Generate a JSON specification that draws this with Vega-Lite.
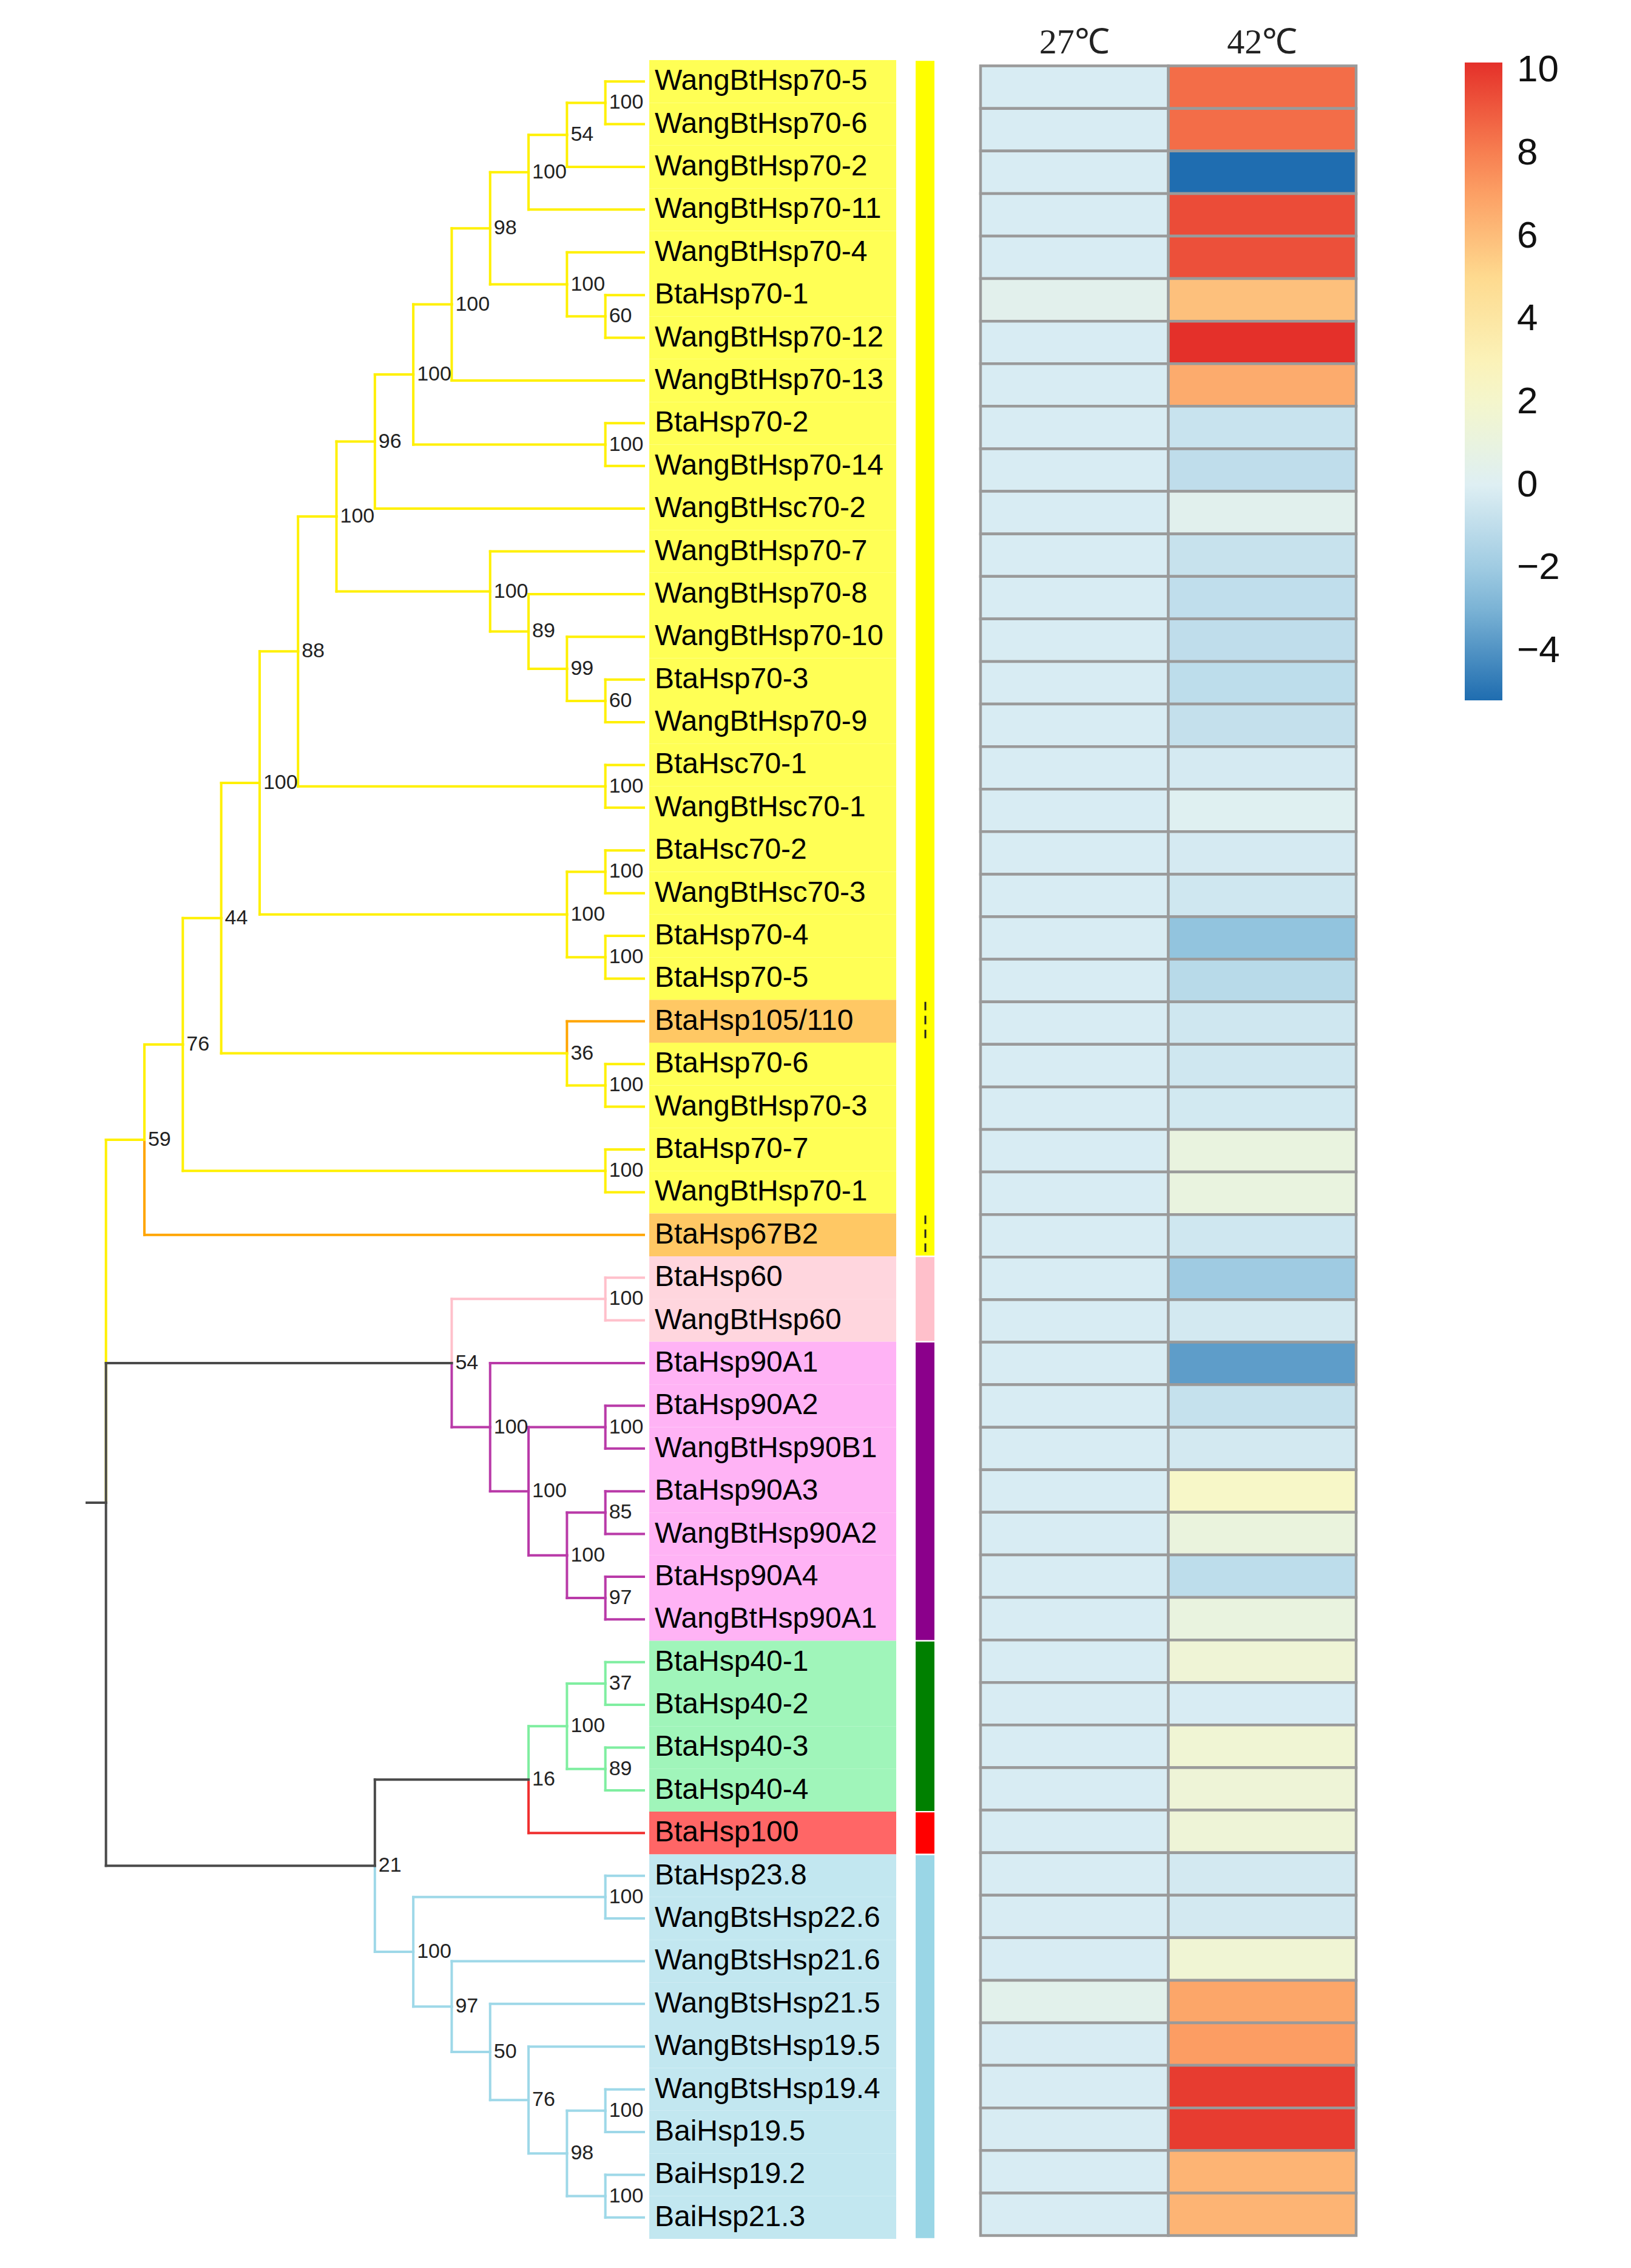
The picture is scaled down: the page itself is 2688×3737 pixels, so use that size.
{
"$schema": "https://vega.github.io/schema/vega-lite/v6.json",
"width": 2688, "height": 3737, "autosize": {"type": "none"}, "padding": 0,
"background": "white",
"config": {"view": {"stroke": null}},
"datasets": {"tree": [
{"name":"WangBtHsp70-5","h":0,"ph":1,"r":1,"pr":1.5,"cl":"Hsp70","fam":"Hsp70","27℃":-0.2,"42℃":8.5},
{"name":"WangBtHsp70-6","h":0,"ph":1,"r":2,"pr":1.5,"cl":"Hsp70","fam":"Hsp70","27℃":-0.2,"42℃":8.5},
{"name":"WangBtHsp70-2","h":0,"ph":2,"r":3,"pr":2.25,"cl":"Hsp70","fam":"Hsp70","27℃":-0.2,"42℃":-5.2},
{"name":"WangBtHsp70-11","h":0,"ph":3,"r":4,"pr":3.125,"cl":"Hsp70","fam":"Hsp70","27℃":-0.2,"42℃":9.4},
{"name":"WangBtHsp70-4","h":0,"ph":2,"r":5,"pr":5.75,"cl":"Hsp70","fam":"Hsp70","27℃":-0.2,"42℃":9.3},
{"name":"BtaHsp70-1","h":0,"ph":1,"r":6,"pr":6.5,"cl":"Hsp70","fam":"Hsp70","27℃":0.35,"42℃":5.9},
{"name":"WangBtHsp70-12","h":0,"ph":1,"r":7,"pr":6.5,"cl":"Hsp70","fam":"Hsp70","27℃":-0.2,"42℃":10.18},
{"name":"WangBtHsp70-13","h":0,"ph":5,"r":8,"pr":6.21875,"cl":"Hsp70","fam":"Hsp70","27℃":-0.2,"42℃":6.6},
{"name":"BtaHsp70-2","h":0,"ph":1,"r":9,"pr":9.5,"cl":"Hsp70","fam":"Hsp70","27℃":-0.2,"42℃":-0.7},
{"name":"WangBtHsp70-14","h":0,"ph":1,"r":10,"pr":9.5,"cl":"Hsp70","fam":"Hsp70","27℃":-0.2,"42℃":-1.0},
{"name":"WangBtHsc70-2","h":0,"ph":7,"r":11,"pr":9.4296875,"cl":"Hsp70","fam":"Hsp70","27℃":-0.2,"42℃":0.3},
{"name":"WangBtHsp70-7","h":0,"ph":4,"r":12,"pr":12.9375,"cl":"Hsp70","fam":"Hsp70","27℃":-0.2,"42℃":-0.75},
{"name":"WangBtHsp70-8","h":0,"ph":3,"r":13,"pr":13.875,"cl":"Hsp70","fam":"Hsp70","27℃":-0.2,"42℃":-0.95},
{"name":"WangBtHsp70-10","h":0,"ph":2,"r":14,"pr":14.75,"cl":"Hsp70","fam":"Hsp70","27℃":-0.2,"42℃":-1.0},
{"name":"BtaHsp70-3","h":0,"ph":1,"r":15,"pr":15.5,"cl":"Hsp70","fam":"Hsp70","27℃":-0.2,"42℃":-1.05},
{"name":"WangBtHsp70-9","h":0,"ph":1,"r":16,"pr":15.5,"cl":"Hsp70","fam":"Hsp70","27℃":-0.2,"42℃":-0.85},
{"name":"BtaHsc70-1","h":0,"ph":1,"r":17,"pr":17.5,"cl":"Hsp70","fam":"Hsp70","27℃":-0.2,"42℃":-0.3},
{"name":"WangBtHsc70-1","h":0,"ph":1,"r":18,"pr":17.5,"cl":"Hsp70","fam":"Hsp70","27℃":-0.2,"42℃":0.1},
{"name":"BtaHsc70-2","h":0,"ph":1,"r":19,"pr":19.5,"cl":"Hsp70","fam":"Hsp70","27℃":-0.2,"42℃":-0.3},
{"name":"WangBtHsc70-3","h":0,"ph":1,"r":20,"pr":19.5,"cl":"Hsp70","fam":"Hsp70","27℃":-0.2,"42℃":-0.5},
{"name":"BtaHsp70-4","h":0,"ph":1,"r":21,"pr":21.5,"cl":"Hsp70","fam":"Hsp70","27℃":-0.2,"42℃":-2.4},
{"name":"BtaHsp70-5","h":0,"ph":1,"r":22,"pr":21.5,"cl":"Hsp70","fam":"Hsp70","27℃":-0.2,"42℃":-1.2},
{"name":"BtaHsp105/110","h":0,"ph":2,"r":23,"pr":23.75,"cl":"Hsp110","fam":"Hsp70","27℃":-0.2,"42℃":-0.5},
{"name":"BtaHsp70-6","h":0,"ph":1,"r":24,"pr":24.5,"cl":"Hsp70","fam":"Hsp70","27℃":-0.2,"42℃":-0.5},
{"name":"WangBtHsp70-3","h":0,"ph":1,"r":25,"pr":24.5,"cl":"Hsp70","fam":"Hsp70","27℃":-0.2,"42℃":-0.4},
{"name":"BtaHsp70-7","h":0,"ph":1,"r":26,"pr":26.5,"cl":"Hsp70","fam":"Hsp70","27℃":-0.2,"42℃":1.0},
{"name":"WangBtHsp70-1","h":0,"ph":1,"r":27,"pr":26.5,"cl":"Hsp70","fam":"Hsp70","27℃":-0.2,"42℃":1.0},
{"name":"BtaHsp67B2","h":0,"ph":13,"r":28,"pr":25.77135,"cl":"Hsp110","fam":"Hsp70","27℃":-0.2,"42℃":-0.5},
{"name":"BtaHsp60","h":0,"ph":1,"r":29,"pr":29.5,"cl":"Hsp60","fam":"Hsp60","27℃":-0.2,"42℃":-2.0},
{"name":"WangBtHsp60","h":0,"ph":1,"r":30,"pr":29.5,"cl":"Hsp60","fam":"Hsp60","27℃":-0.2,"42℃":-0.35},
{"name":"BtaHsp90A1","h":0,"ph":4,"r":31,"pr":32.5,"cl":"Hsp90","fam":"Hsp90","27℃":-0.2,"42℃":-3.7},
{"name":"BtaHsp90A2","h":0,"ph":1,"r":32,"pr":32.5,"cl":"Hsp90","fam":"Hsp90","27℃":-0.2,"42℃":-0.8},
{"name":"WangBtHsp90B1","h":0,"ph":1,"r":33,"pr":32.5,"cl":"Hsp90","fam":"Hsp90","27℃":-0.2,"42℃":-0.35},
{"name":"BtaHsp90A3","h":0,"ph":1,"r":34,"pr":34.5,"cl":"Hsp90","fam":"Hsp90","27℃":-0.2,"42℃":2.2},
{"name":"WangBtHsp90A2","h":0,"ph":1,"r":35,"pr":34.5,"cl":"Hsp90","fam":"Hsp90","27℃":-0.2,"42℃":1.1},
{"name":"BtaHsp90A4","h":0,"ph":1,"r":36,"pr":36.5,"cl":"Hsp90","fam":"Hsp90","27℃":-0.2,"42℃":-1.05},
{"name":"WangBtHsp90A1","h":0,"ph":1,"r":37,"pr":36.5,"cl":"Hsp90","fam":"Hsp90","27℃":-0.2,"42℃":1.0},
{"name":"BtaHsp40-1","h":0,"ph":1,"r":38,"pr":38.5,"cl":"Hsp40","fam":"Hsp40","27℃":-0.2,"42℃":1.5},
{"name":"BtaHsp40-2","h":0,"ph":1,"r":39,"pr":38.5,"cl":"Hsp40","fam":"Hsp40","27℃":-0.2,"42℃":-0.2},
{"name":"BtaHsp40-3","h":0,"ph":1,"r":40,"pr":40.5,"cl":"Hsp40","fam":"Hsp40","27℃":-0.2,"42℃":1.6},
{"name":"BtaHsp40-4","h":0,"ph":1,"r":41,"pr":40.5,"cl":"Hsp40","fam":"Hsp40","27℃":-0.2,"42℃":1.45},
{"name":"BtaHsp100","h":0,"ph":3,"r":42,"pr":40.75,"cl":"Hsp100","fam":"Hsp100","27℃":-0.2,"42℃":1.45},
{"name":"BtaHsp23.8","h":0,"ph":1,"r":43,"pr":43.5,"cl":"sHsp","fam":"sHsp","27℃":-0.2,"42℃":-0.35},
{"name":"WangBtsHsp22.6","h":0,"ph":1,"r":44,"pr":43.5,"cl":"sHsp","fam":"sHsp","27℃":-0.2,"42℃":-0.35},
{"name":"WangBtsHsp21.6","h":0,"ph":5,"r":45,"pr":46.0625,"cl":"sHsp","fam":"sHsp","27℃":-0.2,"42℃":1.6},
{"name":"WangBtsHsp21.5","h":0,"ph":4,"r":46,"pr":47.125,"cl":"sHsp","fam":"sHsp","27℃":0.4,"42℃":6.8},
{"name":"WangBtsHsp19.5","h":0,"ph":3,"r":47,"pr":48.25,"cl":"sHsp","fam":"sHsp","27℃":-0.2,"42℃":7.1},
{"name":"WangBtsHsp19.4","h":0,"ph":1,"r":48,"pr":48.5,"cl":"sHsp","fam":"sHsp","27℃":-0.2,"42℃":9.85},
{"name":"BaiHsp19.5","h":0,"ph":1,"r":49,"pr":48.5,"cl":"sHsp","fam":"sHsp","27℃":-0.2,"42℃":9.85},
{"name":"BaiHsp19.2","h":0,"ph":1,"r":50,"pr":50.5,"cl":"sHsp","fam":"sHsp","27℃":-0.2,"42℃":6.3},
{"name":"BaiHsp21.3","h":0,"ph":1,"r":51,"pr":50.5,"cl":"sHsp","fam":"sHsp","27℃":-0.2,"42℃":6.3},
{"id":"A","h":1,"r":1.5,"ph":2,"pr":2.25,"cl":"Hsp70","bs":100},
{"id":"B","h":2,"r":2.25,"ph":3,"pr":3.125,"cl":"Hsp70","bs":54},
{"id":"C","h":3,"r":3.125,"ph":4,"pr":4.4375,"cl":"Hsp70","bs":100},
{"id":"D","h":1,"r":6.5,"ph":2,"pr":5.75,"cl":"Hsp70","bs":60},
{"id":"E","h":2,"r":5.75,"ph":4,"pr":4.4375,"cl":"Hsp70","bs":100},
{"id":"F","h":4,"r":4.4375,"ph":5,"pr":6.21875,"cl":"Hsp70","bs":98},
{"id":"G","h":5,"r":6.21875,"ph":6,"pr":7.859375,"cl":"Hsp70","bs":100},
{"id":"H","h":1,"r":9.5,"ph":6,"pr":7.859375,"cl":"Hsp70","bs":100},
{"id":"I","h":6,"r":7.859375,"ph":7,"pr":9.4296875,"cl":"Hsp70","bs":100},
{"id":"J","h":7,"r":9.4296875,"ph":8,"pr":11.18359,"cl":"Hsp70","bs":96},
{"id":"K","h":8,"r":11.18359,"ph":9,"pr":14.3418,"cl":"Hsp70","bs":100},
{"id":"L","h":4,"r":12.9375,"ph":8,"pr":11.18359,"cl":"Hsp70","bs":100},
{"id":"M","h":3,"r":13.875,"ph":4,"pr":12.9375,"cl":"Hsp70","bs":89},
{"id":"N","h":2,"r":14.75,"ph":3,"pr":13.875,"cl":"Hsp70","bs":99},
{"id":"O","h":1,"r":15.5,"ph":2,"pr":14.75,"cl":"Hsp70","bs":60},
{"id":"R","h":1,"r":17.5,"ph":9,"pr":14.3418,"cl":"Hsp70","bs":100},
{"id":"P","h":9,"r":14.3418,"ph":10,"pr":17.4209,"cl":"Hsp70","bs":88},
{"id":"T","h":1,"r":19.5,"ph":2,"pr":20.5,"cl":"Hsp70","bs":100},
{"id":"U","h":1,"r":21.5,"ph":2,"pr":20.5,"cl":"Hsp70","bs":100},
{"id":"S","h":2,"r":20.5,"ph":10,"pr":17.4209,"cl":"Hsp70","bs":100},
{"id":"Q","h":10,"r":17.4209,"ph":11,"pr":20.58545,"cl":"Hsp70","bs":100},
{"id":"W","h":1,"r":24.5,"ph":2,"pr":23.75,"cl":"Hsp70","bs":100},
{"id":"V","h":2,"r":23.75,"ph":11,"pr":20.58545,"cl":"Hsp70","bs":36},
{"id":"N44","h":11,"r":20.58545,"ph":12,"pr":23.5427,"cl":"Hsp70","bs":44},
{"id":"X","h":1,"r":26.5,"ph":12,"pr":23.5427,"cl":"Hsp70","bs":100},
{"id":"N76","h":12,"r":23.5427,"ph":13,"pr":25.77135,"cl":"Hsp70","bs":76},
{"id":"N59","h":13,"r":25.77135,"ph":14,"pr":34.2685,"cl":"Hsp70","bs":59},
{"id":"Y","h":1,"r":29.5,"ph":5,"pr":31,"cl":"Hsp60","bs":100},
{"id":"Z","h":4,"r":32.5,"ph":5,"pr":31,"cl":"Hsp90","bs":100},
{"id":"Z2","h":3,"r":34,"ph":4,"pr":32.5,"cl":"Hsp90","bs":100},
{"id":"AA","h":1,"r":32.5,"ph":3,"pr":34,"cl":"Hsp90","bs":100},
{"id":"AB","h":2,"r":35.5,"ph":3,"pr":34,"cl":"Hsp90","bs":100},
{"id":"AC","h":1,"r":34.5,"ph":2,"pr":35.5,"cl":"Hsp90","bs":85},
{"id":"AD","h":1,"r":36.5,"ph":2,"pr":35.5,"cl":"Hsp90","bs":97},
{"id":"AE","h":1,"r":38.5,"ph":2,"pr":39.5,"cl":"Hsp40","bs":37},
{"id":"AF","h":1,"r":40.5,"ph":2,"pr":39.5,"cl":"Hsp40","bs":89},
{"id":"AG","h":2,"r":39.5,"ph":3,"pr":40.75,"cl":"Hsp40","bs":100},
{"id":"AJ","h":1,"r":43.5,"ph":6,"pr":44.78125,"cl":"sHsp","bs":100},
{"id":"AO","h":1,"r":48.5,"ph":2,"pr":49.5,"cl":"sHsp","bs":100},
{"id":"AP","h":1,"r":50.5,"ph":2,"pr":49.5,"cl":"sHsp","bs":100},
{"id":"AN","h":2,"r":49.5,"ph":3,"pr":48.25,"cl":"sHsp","bs":98},
{"id":"AM","h":3,"r":48.25,"ph":4,"pr":47.125,"cl":"sHsp","bs":76},
{"id":"AL","h":4,"r":47.125,"ph":5,"pr":46.0625,"cl":"sHsp","bs":50},
{"id":"AK","h":5,"r":46.0625,"ph":6,"pr":44.78125,"cl":"sHsp","bs":97},
{"id":"AI","h":6,"r":44.78125,"ph":7,"pr":42.765625,"cl":"sHsp","bs":100},
{"id":"N54","h":5,"r":31,"ph":14,"pr":34.2685,"cl":"none","bs":54},
{"id":"AH","h":3,"r":40.75,"ph":7,"pr":42.765625,"cl":"none","bs":16},
{"id":"N21","h":7,"r":42.765625,"ph":14,"pr":34.2685,"cl":"none","bs":21},
{"id":"ROOT","h":14,"r":34.2685,"ph":14.5,"pr":34.2685,"cl":"none"}
]},
"data": {"name": "tree"},
"layer": [
{
"layer": [
{"mark": {"type": "rule", "strokeWidth": 4, "strokeCap": "square"},
 "encoding": {
  "x": {"field": "ph", "type": "quantitative", "scale": {"domain": [14.5, 0], "range": [143, 1061], "nice": false, "zero": false}, "axis": null},
  "y": {"field": "pr", "type": "quantitative", "scale": {"domain": [0.5, 51.5], "range": [99, 3689], "nice": false, "zero": false}, "axis": null},
  "y2": {"field": "r"},
  "stroke": {"field": "cl", "type": "nominal", "scale": {"domain": ["Hsp70","Hsp110","Hsp60","Hsp90","Hsp40","Hsp100","sHsp","none"], "range": ["#FFF000","#FFA500","#FFC0CB","#B93AA8","#7FEEA0","#F03030","#9ED8E8","#4A4A4A"]}, "legend": null}
 }},
{"mark": {"type": "rule", "strokeWidth": 4, "strokeCap": "square"},
 "encoding": {
  "x": {"field": "ph", "type": "quantitative", "scale": {"domain": [14.5, 0], "range": [143, 1061], "nice": false, "zero": false}, "axis": null},
  "x2": {"field": "h"},
  "y": {"field": "r", "type": "quantitative", "scale": {"domain": [0.5, 51.5], "range": [99, 3689], "nice": false, "zero": false}, "axis": null},
  "stroke": {"field": "cl", "type": "nominal", "scale": {"domain": ["Hsp70","Hsp110","Hsp60","Hsp90","Hsp40","Hsp100","sHsp","none"], "range": ["#FFF000","#FFA500","#FFC0CB","#B93AA8","#7FEEA0","#F03030","#9ED8E8","#4A4A4A"]}, "legend": null}
 }},
{"transform": [{"filter": "isValid(datum.bs)"}],
 "mark": {"type": "text", "align": "left", "baseline": "middle", "dx": 6, "fontSize": 34, "font": "Liberation Sans", "fill": "#222222"},
 "encoding": {
  "x": {"field": "h", "type": "quantitative"},
  "y": {"field": "r", "type": "quantitative"},
  "text": {"field": "bs", "type": "nominal"}
 }},
{"transform": [{"filter": "datum.h === 0"}],
 "mark": {"type": "rect", "yOffset": -35.2, "y2Offset": 35.2},
 "encoding": {
  "x": {"datum": -0.142, "type": "quantitative"},
  "x2": {"datum": -6.571},
  "y": {"field": "r", "type": "quantitative"},
  "y2": {"field": "r"},
  "fill": {"field": "cl", "type": "nominal", "scale": {"domain": ["Hsp70","Hsp110","Hsp60","Hsp90","Hsp40","Hsp100","sHsp"], "range": ["#FFFF55","#FFC864","#FFD6DE","#FFB3F5","#A0F5BA","#FF6666","#C2E7F0"]}, "legend": null}
 }},
{"transform": [{"filter": "datum.h === 0"}],
 "mark": {"type": "text", "align": "left", "baseline": "middle", "fontSize": 48, "font": "Liberation Sans", "fill": "#000000"},
 "encoding": {
  "x": {"datum": -0.284, "type": "quantitative"},
  "y": {"field": "r", "type": "quantitative"},
  "text": {"field": "name", "type": "nominal"}
 }},
{"transform": [{"filter": "datum.h === 0"}, {"aggregate": [{"op": "min", "field": "r", "as": "r0"}, {"op": "max", "field": "r", "as": "r1"}], "groupby": ["fam"]}],
 "mark": {"type": "rect", "yOffset": -34, "y2Offset": 34},
 "encoding": {
  "x": {"datum": -7.077, "type": "quantitative"},
  "x2": {"datum": -7.566},
  "y": {"field": "r0", "type": "quantitative"},
  "y2": {"field": "r1"},
  "fill": {"field": "fam", "type": "nominal", "scale": {"domain": ["Hsp70","Hsp60","Hsp90","Hsp40","Hsp100","sHsp"], "range": ["#FFFF00","#FFC0CB","#8B008B","#008000","#FF0000","#9AD6E6"]}, "legend": null}
 }},
{"transform": [{"filter": "datum.cl === 'Hsp110' && datum.h === 0"}],
 "mark": {"type": "rule", "stroke": "#222222", "strokeWidth": 3, "strokeDash": [14, 9], "yOffset": -32, "y2Offset": 32},
 "encoding": {
  "x": {"datum": -7.33, "type": "quantitative"},
  "y": {"field": "r", "type": "quantitative"},
  "y2": {"field": "r"}
 }}
],
"resolve": {"scale": {"fill": "independent"}}
},
{
"transform": [{"filter": "datum.h === 0"}, {"fold": ["27℃", "42℃"], "as": ["temp", "value"]}],
"layer": [
{"mark": {"type": "rect", "stroke": "#9A9A9A", "strokeWidth": 4.5},
 "encoding": {
  "x": {"field": "temp", "type": "nominal", "scale": {"domain": ["27℃", "42℃"], "range": [1616, 2235], "paddingInner": 0, "paddingOuter": 0}, "axis": null},
  "y": {"field": "name", "type": "nominal", "sort": {"field": "r", "op": "min", "order": "ascending"}, "scale": {"range": [108.6, 3683.5], "paddingInner": 0, "paddingOuter": 0}, "axis": null},
  "color": {"field": "value", "type": "quantitative",
   "scale": {"domain": [-5.2, -2.6, -0.05, 2.5, 5.05, 7.6, 10.18], "range": ["#1F6DB0", "#8CC0DC", "#DDEFF4", "#FAF8C2", "#FED98E", "#FB8E58", "#E4302A"], "interpolate": "rgb"},
   "legend": {"orient": "none", "legendX": 2414, "legendY": 103, "direction": "vertical", "title": null, "gradientLength": 1051, "gradientThickness": 62, "values": [-4, -2, 0, 2, 4, 6, 8, 10], "labelFontSize": 62, "labelFont": "Liberation Sans", "labelColor": "#111111", "labelOffset": 24, "gradientStrokeWidth": 0, "padding": 0, "labelOverlap": false}}
 }},
{"transform": [{"filter": "datum.r === 1"}],
 "mark": {"type": "text", "font": "Liberation Serif", "fontSize": 58, "baseline": "alphabetic", "align": "center", "dy": -55.6, "fill": "#222222"},
 "encoding": {
  "x": {"field": "temp", "type": "nominal"},
  "y": {"field": "name", "type": "nominal", "sort": {"field": "r", "op": "min", "order": "ascending"}},
  "text": {"field": "temp", "type": "nominal"}
 }}
]
}
],
"resolve": {"scale": {"x": "independent", "y": "independent"}}
}
